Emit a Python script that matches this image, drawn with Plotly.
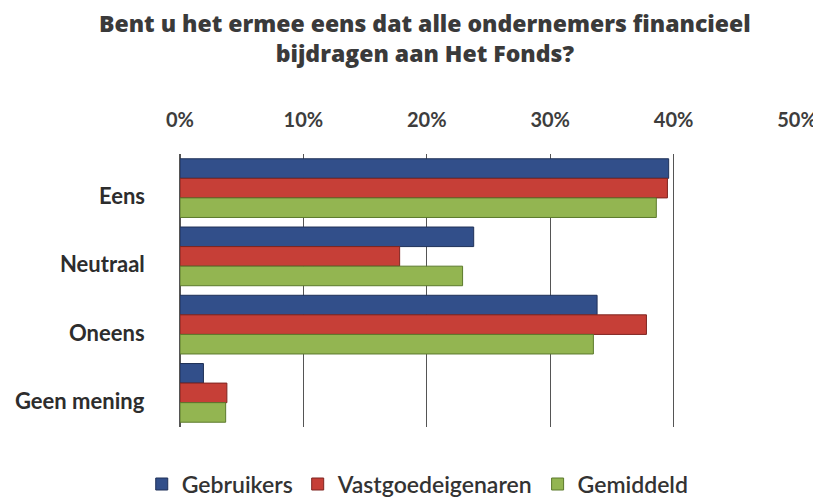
import plotly.graph_objects as go

categories = ["Eens", "Neutraal", "Oneens", "Geen mening"]
series_names = ["Gebruikers", "Vastgoedeigenaren", "Gemiddeld"]
gebruikers = [0.396, 0.238, 0.338, 0.019]
vastgoedeigenaren = [0.395, 0.178, 0.378, 0.038]
gemiddeld = [0.386, 0.229, 0.335, 0.037]
tick_vals = [0, 0.1, 0.2, 0.3, 0.4, 0.5]
tick_text = ["0%", "10%", "20%", "30%", "40%", "50%"]
title_text = "Bent u het ermee eens dat alle ondernemers financieel<br>bijdragen aan Het Fonds?"

colors = ["#324f8a", "#c63f37", "#93b551"]
edge = ["#1f3158", "#7e2520", "#5c7a2c"]

fig = go.Figure()
for name, vals, c, e in zip(series_names, [gebruikers, vastgoedeigenaren, gemiddeld], colors, edge):
    fig.add_trace(go.Bar(
        y=categories, x=vals, name=name, orientation="h",
        marker=dict(color=c, line=dict(color=e, width=1)),
    ))

fig.update_layout(
    width=821, height=497,
    paper_bgcolor="white", plot_bgcolor="white",
    barmode="group", bargap=0.14, bargroupgap=0.0,
    margin=dict(l=172, r=32, t=146, b=78, autoexpand=False),
    font=dict(family="Lato, Open Sans, sans-serif", color="#3d3d3d"),
    legend=dict(
        orientation="h", x=-0.062, xanchor="left", y=-0.209, yanchor="middle",
        font=dict(size=23, color="#333333", weight=600), itemwidth=30,
        traceorder="normal",
    ),
    showlegend=True,
)
fig.add_annotation(
    text=title_text, xref="paper", yref="paper",
    x=0.397, xanchor="center", y=1.425, yanchor="middle", showarrow=False,
    align="center",
    font=dict(size=23, color="#3a3a3a", family="Open Sans, sans-serif", weight=800),
)
for cat in categories:
    fig.add_annotation(
        text=cat, xref="paper", yref="y", x=0, y=cat,
        xanchor="right", yanchor="middle", xshift=-33, yshift=-7.5,
        showarrow=False,
        font=dict(size=22, color="#2d2d2d", family="Lato, sans-serif", weight="bold"),
    )
fig.update_xaxes(
    side="top", range=[0, 0.5], tickvals=tick_vals, ticktext=tick_text,
    showgrid=True, gridcolor="#555555", gridwidth=1,
    zeroline=True, zerolinecolor="#555555", zerolinewidth=1,
    ticks="", ticklabelstandoff=22, automargin=False,
    tickfont=dict(size=20, color="#3d3d3d", family="Lato, sans-serif", weight="bold"),
)
fig.update_yaxes(
    autorange="reversed", showgrid=False, ticks="", showticklabels=False,
    automargin=False,
    showline=True, linecolor="#555555", linewidth=1,
)

fig.write_html("out.html")
